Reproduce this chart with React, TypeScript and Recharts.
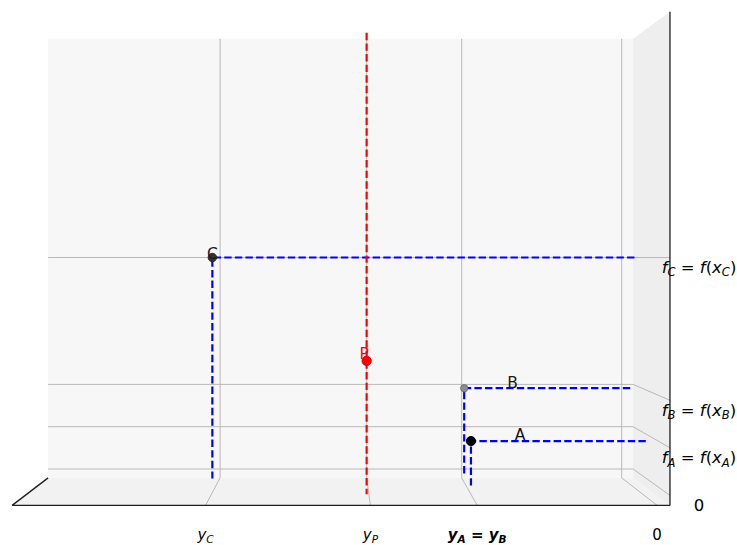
import React from 'react';
import { ComposedChart, XAxis, YAxis, Line, Area, Scatter } from 'recharts';

// ---------------- data ----------------
const pointNames = ['A', 'B', 'C', 'P'];
const pointDepth = [0.68, 0.24, 0.36, 0.5]; // x-axis (depth) coordinate
const pointY = [4.03, 4.03, 10.1, 6.42];
const pointF = [1, 2, 5, 2.7];

const yTickValues = [10.04, 6.375, 4, 0];
const yTickLabels = ['y_C', 'y_P', 'y_A = y_B', '0'];
const fTickValues = [5, 2, 1, 0];
const fTickLabels = ['f_C = f(x_C)', 'f_B = f(x_B)', 'f_A = f(x_A)', '0'];

const depthLimits = [0, 1];
const yLimits = [-0.285, 14.34];
const fLimits = [-0.21, 10.17];
const pLineF = [10.0, -0.27];

// ---------------- view / projection ----------------
const VIEW = { cx: 337, cy: 257, x0: 621.7, xUnit: 40, f0: 469, fUnit: 42.3, persp: 0.1245 };
function proj(d: number, y: number, f: number) {
  const k = 1 + VIEW.persp * d;
  const xb = VIEW.x0 - VIEW.xUnit * y;
  const yb = VIEW.f0 - VIEW.fUnit * f;
  return { sx: VIEW.cx + k * (xb - VIEW.cx), sy: VIEW.cy + k * (yb - VIEW.cy) };
}

const W = 737;
const H = 545;
const FONT = 'DejaVu Sans';

const [dBack, dFront] = depthLimits;
const [yMin, yMax] = yLimits;
const [fMin, fMax] = fLimits;

// panes (range areas)
function rangePt(top: { sx: number; sy: number }, bottom: { sx: number; sy: number }) {
  return { sx: top.sx, r: [top.sy, bottom.sy] };
}
const backPane = [
  rangePt(proj(dBack, yMax, fMax), proj(dBack, yMax, fMin)),
  rangePt(proj(dBack, yMin, fMax), proj(dBack, yMin, fMin)),
];
const sidePane = [
  rangePt(proj(dBack, yMin, fMax), proj(dBack, yMin, fMin)),
  rangePt(proj(dFront, yMin, fMax), proj(dFront, yMin, fMin)),
];
const floorPane = [
  { sx: proj(dFront, yMax, fMin).sx, r: [proj(dFront, yMax, fMin).sy - 0.01, proj(dFront, yMax, fMin).sy] },
  rangePt(proj(dBack, yMax, fMin), proj(dFront, yMax, fMin)),
  { sx: proj(dBack, yMin, fMin).sx, r: [proj(dBack, yMin, fMin).sy, proj(dFront, yMin, fMin).sy] },
  { sx: proj(dFront, yMin, fMin).sx, r: [proj(dFront, yMin, fMin).sy - 0.01, proj(dFront, yMin, fMin).sy] },
];

// grid lines
const yGrid = yTickValues.map((y) => [proj(dBack, y, fMax), proj(dBack, y, fMin), proj(dFront, y, fMin)]);
const fGrid = fTickValues.map((f) => [proj(dBack, yMax, f), proj(dBack, yMin, f), proj(dFront, yMin, f)]);

// axis lines
const axisLines = [
  [proj(dBack, yMax, fMin), proj(dFront, yMax, fMin)],
  [proj(dFront, yMax, fMin), proj(dFront, yMin, fMin)],
  [proj(dFront, yMin, fMin), proj(dFront, yMin, fMax)],
];

// projection (dashed) lines of A, B, C
const dropLines = [0, 1, 2].map((i) => [
  proj(pointDepth[i], 0, pointF[i]),
  proj(pointDepth[i], pointY[i], pointF[i]),
  proj(pointDepth[i], pointY[i], 0),
]);
const pIdx = 3;
const redLine = pLineF.map((f) => proj(pointDepth[pIdx], pointY[pIdx], f));

const points = pointNames.map((name, i) => ({ name, ...proj(pointDepth[i], pointY[i], pointF[i]) }));

const yTickPts = yTickValues.map((y, i) => ({ label: yTickLabels[i], ...proj(dFront, y, fMin) }));
const fTickPts = fTickValues.map((f, i) => ({ label: fTickLabels[i], ...proj(dFront, yMin, f) }));

// ---------------- styles ----------------
const pointStyle: Record<string, any> = {
  A: { fill: '#000000', stroke: '#000000', r: 4.6, text: '#111111', dx: 49, dy: -1 },
  B: { fill: '#8e8e8e', stroke: '#6e6e6e', r: 3.6, text: '#1a1a1a', dx: 48.5, dy: 0 },
  C: { fill: '#333333', stroke: '#2a2a2a', r: 4.2, text: '#1a1a1a', dx: 0, dy: 1 },
  P: { fill: '#ff0000', stroke: '#e00000', r: 4.6, text: '#ff0000', dx: -2.5, dy: -1.7 },
};

// ---------------- mathtext-like label ----------------
type Tok = { text: string; italic: boolean; sub: boolean };
function tokenize(s: string): Tok[] {
  const out: Tok[] = [];
  for (let i = 0; i < s.length; i++) {
    const c = s[i];
    if (c === '_') {
      out.push({ text: s[i + 1], italic: true, sub: true });
      i++;
      continue;
    }
    out.push({ text: c, italic: /[A-Za-z]/.test(c), sub: false });
  }
  return out;
}

function MathText(props: { x: number; y: number; s: string; size: number; anchor: string; bold?: boolean; color?: string }) {
  const { x, y, s, size, anchor, bold, color } = props;
  const toks = tokenize(s);
  const shift = size * 0.2;
  let prevSub = false;
  const spans = toks.map((t, i) => {
    let dy = 0;
    if (t.sub && !prevSub) dy = shift;
    else if (!t.sub && prevSub) dy = -shift;
    prevSub = t.sub;
    return (
      <tspan key={i} dy={dy || undefined} fontStyle={t.italic ? 'italic' : 'normal'} fontSize={t.sub ? size * 0.7 : size}>
        {t.text}
      </tspan>
    );
  });
  return (
    <text
      x={x}
      y={y}
      textAnchor={anchor as any}
      fontFamily={FONT}
      fontSize={size}
      fill={color || '#000'}
      fontWeight={bold ? 'bold' : 'normal'}
      style={{ whiteSpace: 'pre' }}
    >
      {spans}
    </text>
  );
}

const GRID = '#b8b8b8';
const noDot = { dot: false as const, activeDot: false as const, legendType: 'none' as const, isAnimationActive: false };

export default function App() {
  return (
    <div style={{ position: 'absolute', left: 0, top: 0, width: W, height: H, background: '#fff' }}>
      <ComposedChart width={W} height={H} margin={{ top: 0, right: 0, bottom: 0, left: 0 }}>
        <XAxis type="number" dataKey="sx" domain={[0, W]} hide allowDataOverflow />
        <YAxis type="number" dataKey="sy" domain={[0, H]} reversed hide allowDataOverflow />

        <Area {...noDot} data={backPane} dataKey="r" type="linear" fill="#f7f7f7" fillOpacity={1} stroke="none" />
        <Area {...noDot} data={sidePane} dataKey="r" type="linear" fill="#eeeeee" fillOpacity={1} stroke="none" />
        <Area {...noDot} data={floorPane} dataKey="r" type="linear" fill="#f2f2f2" fillOpacity={1} stroke="none" />

        {yGrid.map((pts, i) => (
          <Line {...noDot} key={'yg' + i} data={pts} dataKey="sy" type="linear" stroke={GRID} strokeWidth={1} />
        ))}
        {fGrid.map((pts, i) => (
          <Line {...noDot} key={'fg' + i} data={pts} dataKey="sy" type="linear" stroke={GRID} strokeWidth={1} />
        ))}
        {axisLines.map((pts, i) => (
          <Line {...noDot} key={'ax' + i} data={pts} dataKey="sy" type="linear" stroke="#1e1e1e" strokeWidth={1.3} />
        ))}

        {dropLines.map((pts, i) => (
          <Line {...noDot} key={'dl' + i} data={pts} dataKey="sy" type="linear" stroke="#0000ff" strokeWidth={2.2} strokeDasharray="7.4 3.2" />
        ))}
        <Line {...noDot} data={redLine} dataKey="sy" type="linear" stroke="#ff0000" strokeWidth={2.2} strokeDasharray="7.4 3.2" />

        <Scatter
          data={points}
          dataKey="sy"
          isAnimationActive={false}
          legendType="none"
          shape={(p: any) => {
            const st = pointStyle[p.payload.name];
            return (
              <g>
                <circle cx={p.cx} cy={p.cy} r={st.r} fill={st.fill} stroke={st.stroke} strokeWidth={1} />
                <text x={p.cx + st.dx} y={p.cy + st.dy} textAnchor="middle" fontFamily={FONT} fontSize={15.5} fill={st.text}>
                  {p.payload.name}
                </text>
              </g>
            );
          }}
        />

        <Scatter
          data={yTickPts}
          dataKey="sy"
          isAnimationActive={false}
          legendType="none"
          shape={(p: any) => (
            <MathText x={p.cx} y={540} s={p.payload.label} size={15} anchor="middle" bold={p.payload.label.includes('=')} />
          )}
        />
        <Scatter
          data={fTickPts}
          dataKey="sy"
          isAnimationActive={false}
          legendType="none"
          shape={(p: any) => <MathText x={699} y={p.cy + 15.5} s={p.payload.label} size={16.5} anchor="middle" />}
        />
      </ComposedChart>
    </div>
  );
}
